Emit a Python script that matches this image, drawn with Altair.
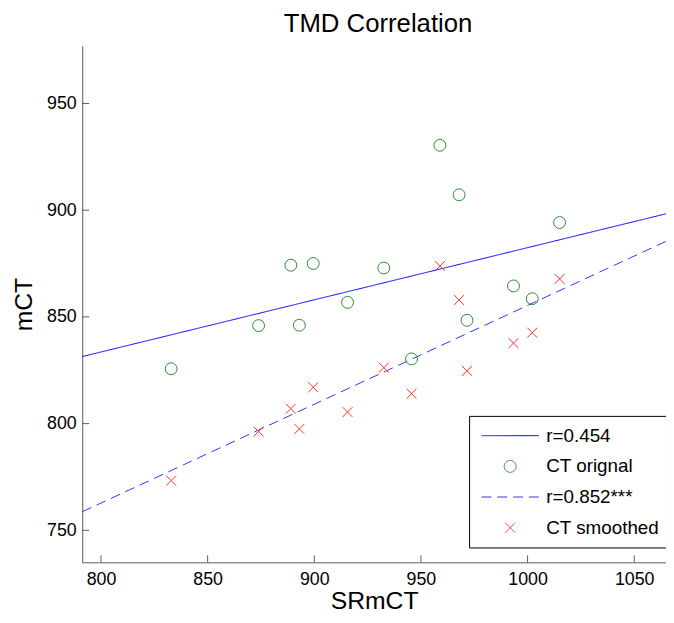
import altair as alt
import pandas as pd

# ---- data ----
srmct = [832.9, 873.9, 889.0, 893.0, 899.5, 915.6, 932.6, 945.6, 958.9, 967.9, 971.6, 993.4, 1002.2, 1015.0]
ct_original = [825.7, 845.9, 874.2, 846.1, 875.0, 856.8, 872.9, 830.3, 930.4, 907.2, 848.4, 864.5, 858.5, 894.2]
ct_smoothed = [773.3, 796.3, 807.0, 797.5, 817.0, 805.4, 826.2, 814.0, 873.8, 857.9, 824.7, 837.7, 842.6, 867.8]

fit_x = [791.2, 1064.9]
fit_original = [831.4, 898.3]
fit_smoothed = [758.7, 885.4]

series = ["r=0.454", "CT orignal", "r=0.852***", "CT smoothed"]
x_ticks = [800, 850, 900, 950, 1000, 1050]
y_ticks = [750, 800, 850, 900, 950]

# ---- tables ----
points_df = pd.DataFrame(
    {"x": srmct + srmct,
     "y": ct_original + ct_smoothed,
     "series": [series[1]] * len(srmct) + [series[3]] * len(srmct)}
)
lines_df = pd.DataFrame(
    {"x": fit_x + fit_x,
     "y": fit_original + fit_smoothed,
     "series": [series[0]] * 2 + [series[2]] * 2}
)
xt_df = pd.DataFrame({"x": x_ticks})
yt_df = pd.DataFrame({"y": y_ticks})

FONT = "Liberation Sans"
AXIS_COL = "#5a5a5a"
W, H = 590, 522

x_scale = alt.Scale(domain=[791.2, 1064.9], nice=False, zero=False)
y_scale = alt.Scale(domain=[735, 977], nice=False, zero=False)

legend = alt.Legend(
    orient="none", legendX=391, legendY=374,
    strokeColor="black", fillColor="white",
    padding=6, symbolOffset=6, labelOffset=7,
    clipHeight=28, rowPadding=3,
    labelFont=FONT, labelFontSize=19, labelColor="black",
    symbolStrokeWidth=1,
)

color_enc = alt.Color("series:N", title=None, legend=legend,
                      scale=alt.Scale(domain=series, range=["#0000ff", "#2e8b2e", "#3333ff", "#ff3333"]))
shape_enc = alt.Shape("series:N", title=None, legend=legend,
                      scale=alt.Scale(domain=series,
                                      range=["stroke", "circle", "stroke", "M-1,-1L1,1M-1,1L1,-1"]))
dash_enc = alt.StrokeDash("series:N", title=None, legend=legend,
                          scale=alt.Scale(domain=series, range=[[1, 0], [1, 0], [10, 6], [1, 0]]))
size_enc = alt.Size("series:N", title=None, legend=legend,
                    scale=alt.Scale(type="ordinal", domain=series, range=[3364, 144, 3364, 100]))

x_axis = alt.Axis(values=x_ticks, format="d", ticks=False, grid=False, labelFlush=False,
                  labelPadding=8, labelFont=FONT, labelFontSize=18, labelColor="black",
                  domainColor=AXIS_COL, domainWidth=1,
                  title="SRmCT", titleFont=FONT, titleFontSize=25, titleFontWeight="normal",
                  titleColor="black", titleY=47, titleBaseline="alphabetic")
y_axis = alt.Axis(values=y_ticks, format="d", ticks=False, grid=False, labelFlush=False,
                  labelPadding=6, labelFont=FONT, labelFontSize=18, labelColor="black",
                  domainColor=AXIS_COL, domainWidth=1,
                  title="mCT", titleFont=FONT, titleFontSize=25, titleFontWeight="normal",
                  titleColor="black", titleX=-51.5, titleY=261, titleAlign="center",
                  titleBaseline="alphabetic", titleAngle=-90)

X = alt.X("x:Q", scale=x_scale, axis=x_axis, title="SRmCT")
Y = alt.Y("y:Q", scale=y_scale, axis=y_axis, title="mCT")

lines = alt.Chart(lines_df).mark_line(strokeWidth=1, clip=True).encode(
    x=X, y=Y,
    color=color_enc,
    strokeDash=dash_enc,
    detail="series:N",
)

points = alt.Chart(points_df).mark_point(filled=False, strokeWidth=1, opacity=1).encode(
    x=X, y=Y,
    color=color_enc,
    shape=shape_enc,
    size=size_enc,
)

xticks = alt.Chart(xt_df).mark_rule(color=AXIS_COL, strokeWidth=1).encode(
    x=X,
    y=alt.value(H),
    y2=alt.value(H - 7),
)
yticks = alt.Chart(yt_df).mark_rule(color=AXIS_COL, strokeWidth=1).encode(
    y=Y,
    x=alt.value(0),
    x2=alt.value(7),
)

chart = alt.layer(lines, points, xticks, yticks).properties(
    width=W, height=H,
    background="white",
    title=alt.Title("TMD Correlation", font=FONT, fontSize=26, fontWeight="normal",
                    color="black", anchor="middle", offset=9, dx=4),
    autosize=alt.AutoSizeParams(type="none"),
    padding={"left": 75, "top": 35, "right": 0, "bottom": 50},
).configure_view(strokeWidth=0)

chart.save("out.html", embed_options={"renderer": "svg", "actions": False})
